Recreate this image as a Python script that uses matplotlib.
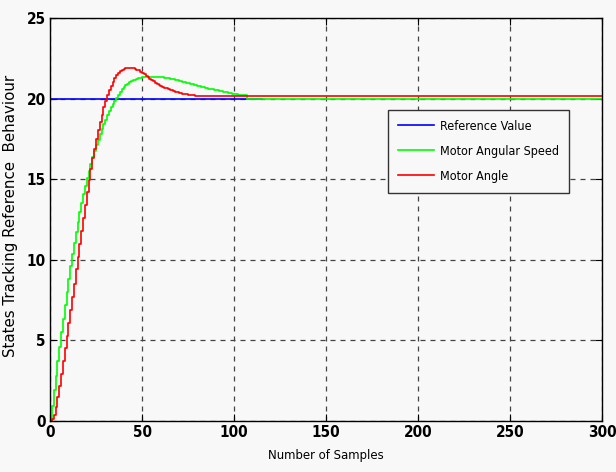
import matplotlib
matplotlib.use('Agg')
import matplotlib.pyplot as plt
from matplotlib import font_manager

# reference value, drawn up to sample 115
ref_x = [0, 115]
ref_y = [20, 20]

# motor angular speed, one value per sample 0..107, then steady to 300
speed_y = [0, 0.95, 1.9, 2.8, 3.7, 4.6, 5.5, 6.35, 7.2, 8.0,
           8.8, 9.6, 10.35, 11.05, 11.7, 12.35, 12.95, 13.5, 14.05, 14.55,
           15.05, 15.5, 15.95, 16.35, 16.75, 17.1, 17.45, 17.8, 18.1, 18.4,
           18.7, 18.95, 19.2, 19.45, 19.65, 19.85, 20.05, 20.25, 20.42, 20.57,
           20.7, 20.82, 20.92, 21.0, 21.07, 21.13, 21.18, 21.22, 21.26, 21.29,
           21.31, 21.33, 21.34, 21.35, 21.36, 21.36, 21.36, 21.36, 21.36, 21.35,
           21.34, 21.32, 21.3, 21.28, 21.26, 21.24, 21.22, 21.19, 21.16, 21.13,
           21.1, 21.07, 21.04, 21.01, 20.98, 20.95, 20.92, 20.89, 20.86, 20.83,
           20.8, 20.77, 20.74, 20.71, 20.68, 20.65, 20.62, 20.6, 20.57, 20.55,
           20.52, 20.5, 20.47, 20.45, 20.42, 20.4, 20.38, 20.35, 20.33, 20.3,
           20.28, 20.26, 20.24, 20.22, 20.2, 20.2, 20.2, 20.0, 20.0]
speed_x = list(range(len(speed_y) - 1)) + [300]

# motor angle, one value per sample 0..82, then steady to 300
angle_y = [0, 0.1, 0.4, 0.9, 1.5, 2.2, 2.9, 3.7, 4.5, 5.3,
           6.1, 6.9, 7.7, 8.5, 9.4, 10.2, 11.0, 11.8, 12.6, 13.4,
           14.2, 14.95, 15.65, 16.3, 16.9, 17.5, 18.05, 18.55, 19.0, 19.45,
           19.85, 20.2, 20.5, 20.8, 21.05, 21.25, 21.45, 21.6, 21.7, 21.78,
           21.84, 21.87, 21.89, 21.9, 21.89, 21.87, 21.84, 21.8, 21.74, 21.67,
           21.59, 21.5, 21.41, 21.32, 21.23, 21.14, 21.06, 20.98, 20.91, 20.85,
           20.79, 20.73, 20.68, 20.63, 20.58, 20.54, 20.5, 20.46, 20.42, 20.39,
           20.36, 20.33, 20.3, 20.28, 20.26, 20.24, 20.22, 20.2, 20.19, 20.18,
           20.17, 20.16, 20.15, 20.15]
angle_x = list(range(len(angle_y) - 1)) + [300]

x_ticks = [0, 50, 100, 150, 200, 250, 300]
y_ticks = [0, 5, 10, 15, 20, 25]


def narrow_font(size, bold=False):
    # look for a condensed / narrow face, fall back to Liberation Sans
    for f in font_manager.fontManager.ttflist:
        fn = f.fname.lower()
        if ('condensed' in fn or 'narrow' in fn) and 'oblique' not in fn \
                and 'italic' not in fn and ('bold' in fn) == bold \
                and f.fname.endswith('.ttf'):
            return font_manager.FontProperties(fname=f.fname, size=size)
    return font_manager.FontProperties(family='Liberation Sans', size=size - 1.5,
                                       weight='bold' if bold else 'normal')


bg = '#f8f8f8'
fig = plt.figure(figsize=(6.16, 4.72), dpi=100, facecolor=bg)
ax = fig.add_axes([0.0812, 0.108, 0.896, 0.854], facecolor=bg)

ax.plot(ref_x, ref_y, color='#0000ff', lw=1.2, label='Reference Value')
ax.plot(speed_x, speed_y, color='#00ff00', lw=1.2, drawstyle='steps-post',
        label='Motor Angular Speed')
ax.plot(angle_x, angle_y, color='#ff0000', lw=1.2, drawstyle='steps-post',
        label='Motor Angle')

ax.set_xlim(0, 300)
ax.set_ylim(0, 25)
ax.set_xticks(x_ticks)
ax.set_yticks(y_ticks)
ax.grid(True, color='#444444', linestyle=(0, (4, 4)), lw=0.9)
ax.tick_params(direction='in', top=True, right=True, length=5, width=0.8, pad=3)
tick_fp = narrow_font(11, bold=True)
for lab in ax.get_xticklabels() + ax.get_yticklabels():
    lab.set_fontproperties(tick_fp)
for sp in ax.spines.values():
    sp.set_color('black')
    sp.set_linewidth(1.0)

ax.set_xlabel('Number of Samples', fontproperties=narrow_font(9.4), labelpad=6)
ax.set_ylabel('States Tracking Reference  Behaviour', fontsize=10.8,
              family='DejaVu Sans')
ax.yaxis.set_label_coords(-0.058, 0.51)

leg = ax.legend(loc='upper left', bbox_to_anchor=(0.612, 0.772), fancybox=False,
                framealpha=1, facecolor=bg, edgecolor='#333333',
                prop=narrow_font(9), handlelength=2.9, handletextpad=0.5,
                borderpad=0.8, labelspacing=0.95, borderaxespad=0)
leg.get_frame().set_linewidth(1.0)

fig.savefig('out.png', dpi=100, facecolor=bg)
